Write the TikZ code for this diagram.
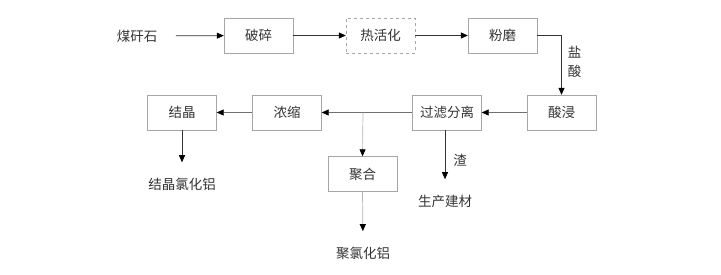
\documentclass[tikz,border=0pt]{standalone}
\usepackage{fontspec}
\setmainfont{Noto Sans CJK SC}
\usetikzlibrary{arrows.meta}
\definecolor{BoxLine}{HTML}{A6A6A6}
\definecolor{ArrowDark}{HTML}{333333}
\definecolor{ArrowMid}{HTML}{707070}
\definecolor{ArrowSoft}{HTML}{B4B4B4}
\definecolor{TextInk}{HTML}{333333}

\begin{document}
\begin{tikzpicture}[x=1pt,y=-1pt,
  every node/.style={font=\fontsize{13.5}{16}\selectfont,text=TextInk},
  stepbox/.style={draw=BoxLine,minimum width=69pt,minimum height=35pt,inner sep=0pt},
  dashbox/.style={stepbox,dashed},
  flow/.style={-{Triangle[length=7pt,width=6pt,color=black]},ArrowDark,line width=0.7pt}]
\useasboundingbox (0,0) rectangle (721,275);
% top row
\node (raw) at (137,36) {煤矸石};
\node[stepbox] (crush) at (258.5,35.5) {破碎};
\node[dashbox] (act) at (380.5,35.5) {热活化};
\node[stepbox] (mill) at (502.5,35.5) {粉磨};
% second row
\node[stepbox] (leach) at (561.5,112.5) {酸浸};
\node[stepbox] (filt) at (447,112.5) {过滤分离};
\node[stepbox] (conc) at (287,112.5) {浓缩};
\node[stepbox] (cryst) at (182,112.5) {结晶};
\node[stepbox] (poly) at (362.5,174) {聚合};
% products
\node (cac) at (182,184) {结晶氯化铝};
\node (bm) at (445,201) {生产建材};
\node (pac) at (363,253) {聚氯化铝};
\coordinate (br) at (363,112.5);
% connectors
\draw[flow,shorten <=15pt] (raw) -- (crush);
\draw[flow] (crush) -- (act);
\draw[flow] (act) -- (mill);
\draw[flow] (mill.east) -| node[pos=0.72,right,align=center,inner sep=6pt] {盐\\[3pt]酸} (leach.north);
\draw[flow,ArrowMid] (leach) -- (filt);
\draw[flow,ArrowMid] (filt) -- (conc);
\draw[flow,ArrowMid] (conc) -- (cryst);
\draw[flow,ArrowSoft] (br) -- (poly.north);
\draw[flow,ArrowSoft,shorten >=12pt] (poly.south) -- (pac.north);
\draw[flow,shorten >=12pt] (cryst.south) -- (cac.north);
\draw[flow,shorten >=12pt] (filt.south -| bm) -- node[right,inner sep=8pt] {渣} (bm.north);
\end{tikzpicture}
\end{document}
